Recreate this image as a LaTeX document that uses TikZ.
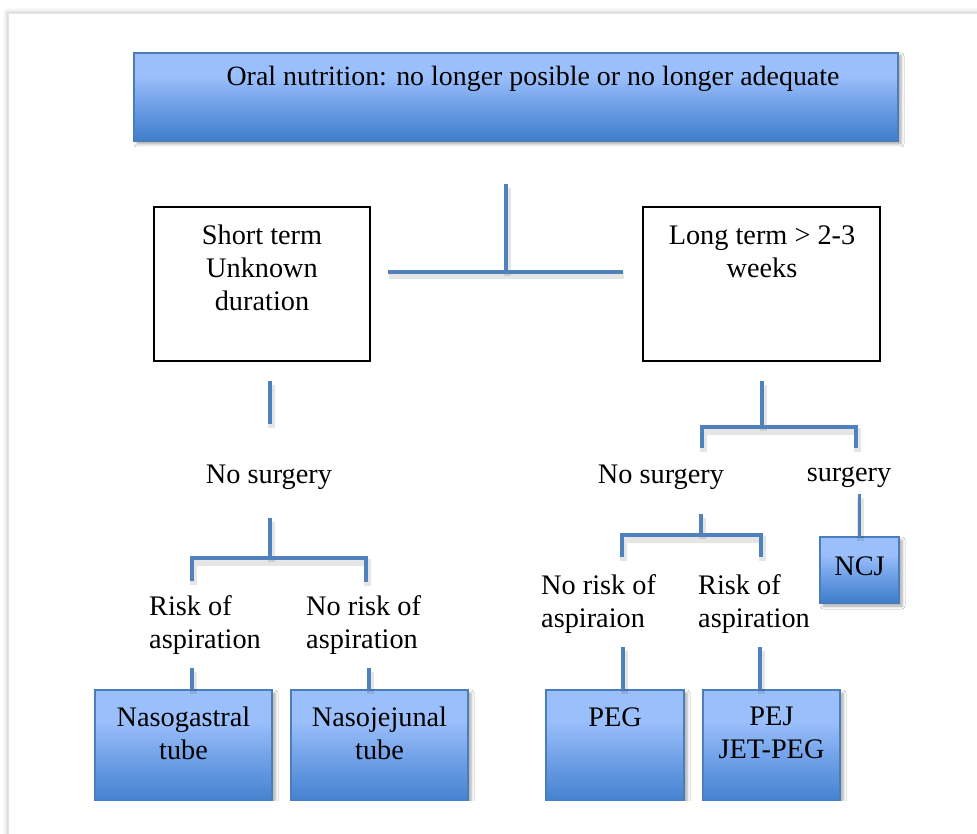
\documentclass[tikz,border=0pt]{standalone}
\usepackage{fontspec}
\setmainfont{Liberation Serif}
\usetikzlibrary{shadows.blur}

\definecolor{linkblue}{HTML}{4F81BD}
\definecolor{boxtop}{HTML}{9BBFFB}
\definecolor{boxmid}{HTML}{6E9FE6}
\definecolor{boxbot}{HTML}{3D7DCB}
\definecolor{boxedge}{HTML}{4A7EBB}

% light at the top, deepening towards the bottom edge
\pgfdeclareverticalshading{tubegrad}{100bp}{color(0bp)=(boxbot); color(25bp)=(boxbot); color(45bp)=(boxmid); color(62bp)=(boxtop); color(100bp)=(boxtop)}

\tikzset{
  bluebox/.style={draw=boxedge, line width=1.5pt, shading=tubegrad,
    blur shadow={shadow xshift=3pt, shadow yshift=-3pt, shadow blur radius=3pt, shadow opacity=35},
    inner sep=0pt, outer sep=0pt},
  plainbox/.style={draw=black, line width=2pt, inner sep=0pt, outer sep=0pt},
  txt/.style={font=\fontsize{28.3}{33}\selectfont, inner sep=0pt, align=center, text=black},
  txtl/.style={txt, align=left},
  conn/.style={draw=linkblue, line width=3.5pt,
    preaction={draw=black, draw opacity=0.10, line width=7pt,
      transform canvas={xshift=1pt, yshift=-4pt}}},
}

\begin{document}
\begin{tikzpicture}[x=1pt, y=-1pt]
\useasboundingbox (0,0) rectangle (977,834);

% sheet edge with its soft shadow
\begin{scope}
  \clip (0,0) rectangle (977,834);
  \fill[white, blur shadow={shadow xshift=0pt, shadow yshift=0pt, shadow blur radius=5pt, shadow opacity=30}]
    (8,13) rectangle (1000,860);
  \draw[black!10, line width=0.8pt] (8,860) -- (8,13) -- (1000,13);
\end{scope}

% header
\node[bluebox, minimum width=764pt, minimum height=88pt] (top) at (516,97) {};
\node[txt, font=\fontsize{27.9}{33}\selectfont] (topt) at (533,79) {Oral nutrition: no longer posible or no longer adequate};

% duration boxes
\node[plainbox, minimum width=216pt, minimum height=154pt] (short) at (262,284) {};
\node[txt] (shortt) at (262,268) {Short term\\Unknown\\duration};
\node[plainbox, minimum width=237pt, minimum height=154pt] (long) at (761.5,284) {};
\node[txt] (longt) at (762,252) {Long term > 2-3\\weeks};

% branch labels
\node[txt] (ns1) at (269,477) {No surgery};
\node[txt] (ns2) at (661,477) {No surgery};
\node[txt] (sg) at (849,477) {surgery};
\node[txtl, anchor=west] (r1) at (149,625) {Risk of\\aspiration};
\node[txtl, anchor=west] (nr1) at (306,625) {No risk of\\aspiration};
\node[txtl, anchor=west] (nr2) at (541,604) {No risk of\\aspiraion};
\node[txtl, anchor=west] (r2) at (698,604) {Risk of\\aspiration};

% NCJ
\node[bluebox, minimum width=79pt, minimum height=66pt] (ncj) at (859.5,570) {};
\node[txt] (ncjt) at (859.5,566) {NCJ};

% tube boxes, cut off at the lower edge
\begin{scope}
  \clip (0,0) rectangle (977,800);
  \node[bluebox, minimum width=177pt, minimum height=118pt] (ng) at (183.5,749) {};
  \node[bluebox, minimum width=177pt, minimum height=118pt] (nj) at (379.5,749) {};
  \node[bluebox, minimum width=138pt, minimum height=118pt] (peg) at (615,749) {};
  \node[bluebox, minimum width=137pt, minimum height=118pt] (pej) at (771.5,749) {};
\end{scope}
\node[txt] (ngt) at (183.5,733) {Nasogastral\\tube};
\node[txt] (njt) at (379.5,733) {Nasojejunal\\tube};
\node[txt] (pegt) at (615,717) {PEG};
\node[txt] (pejt) at (771.5,733) {PEJ\\JET-PEG};

% connector end points
\coordinate (tTop) at (506,184);
\coordinate (tMid) at (506,272);
\coordinate (tL) at (388,272);
\coordinate (tR) at (623,272);

\coordinate (a1) at (270,381);
\coordinate (a2) at (270,424);
\coordinate (b1) at (270,518);
\coordinate (b2) at (270,558);
\coordinate (bl) at (192,581);
\coordinate (br) at (366,582);
\coordinate (h1) at (192,668);
\coordinate (k1) at (369,668);

\coordinate (c1) at (762,381);
\coordinate (c2) at (762,427);
\coordinate (cl) at (702,448);
\coordinate (cr) at (856,448);
\coordinate (d1) at (859.5,494);
\coordinate (e1) at (701,514);
\coordinate (e2) at (701,535);
\coordinate (el) at (622,557);
\coordinate (er) at (761,557);
\coordinate (f1) at (623,647);
\coordinate (g1) at (760,647);

% connectors
\draw[conn] (tTop) -- (tMid);
\draw[conn] (tL) -- (tR);

\draw[conn] (a1) -- (a2);
\draw[conn] (b1) -- (b2);
\draw[conn] (bl) |- (b2) -| (br);
\draw[conn] (h1) -- (h1 |- ng.north);
\draw[conn] (k1) -- (k1 |- nj.north);

\draw[conn] (c1) -- (c2);
\draw[conn] (cl) |- (c2) -| (cr);
\draw[conn] (d1) -- (ncj.north);
\draw[conn] (e1) -- (e2);
\draw[conn] (el) |- (e2) -| (er);
\draw[conn] (f1) -- (f1 |- peg.north);
\draw[conn] (g1) -- (g1 |- pej.north);
\end{tikzpicture}
\end{document}
